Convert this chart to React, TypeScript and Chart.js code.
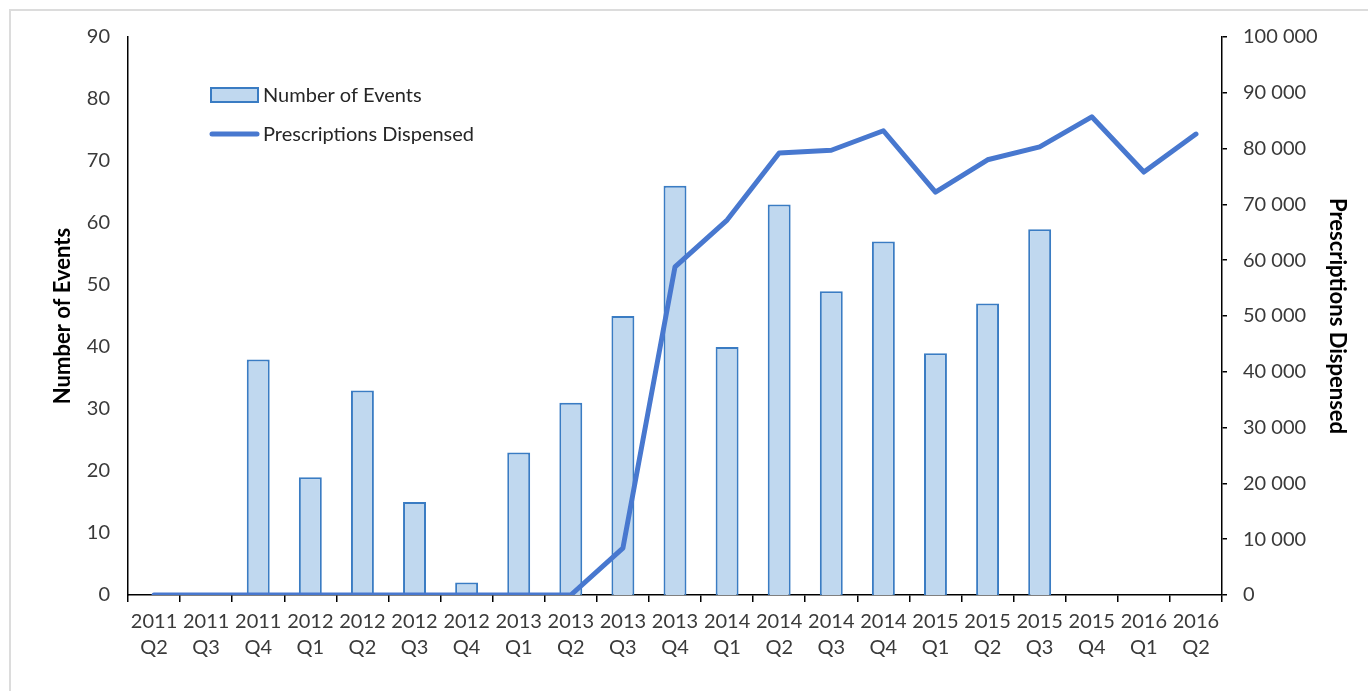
import React, { useEffect, useRef } from "react";
import { Chart, registerables } from "chart.js";

Chart.register(...registerables);

const categories: string[][] = [
  ["2011", "Q2"], ["2011", "Q3"], ["2011", "Q4"],
  ["2012", "Q1"], ["2012", "Q2"], ["2012", "Q3"], ["2012", "Q4"],
  ["2013", "Q1"], ["2013", "Q2"], ["2013", "Q3"], ["2013", "Q4"],
  ["2014", "Q1"], ["2014", "Q2"], ["2014", "Q3"], ["2014", "Q4"],
  ["2015", "Q1"], ["2015", "Q2"], ["2015", "Q3"], ["2015", "Q4"],
  ["2016", "Q1"], ["2016", "Q2"],
];

const numberOfEvents: (number | null)[] = [
  0, 0, 38, 19, 33, 15, 2, 23, 31, 45, 66, 40, 63, 49, 57, 39, 47, 59, null, null, null,
];

const prescriptionsDispensed: number[] = [
  0, 0, 0, 0, 0, 0, 0, 0, 0, 8400, 58800, 67200, 79200, 79700, 83200, 72200, 78000, 80300, 85700, 75800, 82600,
];

const leftTitle = "Number of Events";
const rightTitle = "Prescriptions Dispensed";

const FONT = "Lato";
const BAR_FILL = "#c0d8ef";
const BAR_BORDER = "#3a7cc3";
const LINE_COLOR = "#4878cf";
const TICK_COLOR = "#3a3a3a";

function formatThousands(v: number): string {
  return String(Math.round(v)).replace(/\B(?=(\d{3})+(?!\d))/g, " ");
}

const legendPlugin = {
  id: "insideLegend",
  afterDraw(chart: any) {
    const { ctx, chartArea } = chart;
    const x0 = chartArea.left + 83;
    const y1 = chartArea.top + 58;
    const y2 = chartArea.top + 97;
    ctx.save();
    ctx.fillStyle = BAR_FILL;
    ctx.strokeStyle = BAR_BORDER;
    ctx.lineWidth = 2;
    ctx.fillRect(x0, y1 - 7, 47, 14);
    ctx.strokeRect(x0, y1 - 7, 47, 14);
    ctx.beginPath();
    ctx.strokeStyle = LINE_COLOR;
    ctx.lineWidth = 5;
    ctx.lineCap = "round";
    ctx.moveTo(x0 + 1, y2);
    ctx.lineTo(x0 + 46, y2);
    ctx.stroke();
    ctx.fillStyle = "#262626";
    ctx.font = `20px ${FONT}`;
    ctx.textBaseline = "middle";
    ctx.textAlign = "left";
    ctx.fillText(chart.data.datasets[0].label, x0 + 52, y1 + 1);
    ctx.fillText(chart.data.datasets[1].label, x0 + 52, y2 + 1);
    ctx.restore();
  },
};

export default function App() {
  const canvasRef = useRef<HTMLCanvasElement | null>(null);

  useEffect(() => {
    const canvas = canvasRef.current;
    if (!canvas) return;
    const chart = new Chart(canvas, {
      type: "bar",
      data: {
        labels: categories,
        datasets: [
          {
            type: "bar",
            label: leftTitle,
            data: numberOfEvents,
            yAxisID: "y",
            backgroundColor: BAR_FILL,
            borderColor: BAR_BORDER,
            borderWidth: 2,
            borderSkipped: "start",
            barPercentage: 0.44,
            categoryPercentage: 1,
            order: 1,
          },
          {
            type: "line",
            label: rightTitle,
            data: prescriptionsDispensed,
            yAxisID: "y1",
            borderColor: LINE_COLOR,
            backgroundColor: LINE_COLOR,
            borderWidth: 5,
            pointRadius: 0,
            tension: 0,
            borderCapStyle: "round",
            borderJoinStyle: "round",
            order: 0,
          },
        ] as any,
      },
      options: {
        responsive: false,
        animation: false,
        layout: { padding: { top: 37, left: 0, right: 0, bottom: 0 } },
        plugins: {
          legend: { display: false },
          tooltip: { enabled: false },
        },
        scales: {
          x: {
            type: "category",
            offset: true,
            grid: {
              display: true,
              drawOnChartArea: false,
              drawTicks: true,
              tickLength: 7,
              color: "#000",
              lineWidth: 1.5,
              offset: true,
            },
            border: { display: true, color: "#000", width: 1.5 },
            ticks: {
              color: TICK_COLOR,
              font: { family: FONT, size: 20, lineHeight: 1.3 },
              padding: 7,
              maxRotation: 0,
              minRotation: 0,
              autoSkip: false,
            },
            afterFit: (s: any) => {
              s.height = 96;
            },
          },
          y: {
            position: "left",
            min: 0,
            max: 90,
            grid: { display: false, drawTicks: false, tickLength: 0 },
            border: { display: true, color: "#000", width: 1.5 },
            ticks: {
              stepSize: 10,
              padding: 18,
              color: TICK_COLOR,
              font: { family: FONT, size: 20 },
            },
            title: {
              display: true,
              text: leftTitle,
              color: "#000",
              font: { family: FONT, size: 22, weight: "bold" },
              padding: { top: 50, bottom: 0 },
            },
            afterFit: (s: any) => {
              s.width = 128;
            },
          },
          y1: {
            position: "right",
            min: 0,
            max: 100000,
            grid: {
              display: true,
              drawOnChartArea: false,
              drawTicks: true,
              tickLength: 5,
              color: "#000",
              lineWidth: 1.5,
            },
            border: { display: true, color: "#000", width: 1.5 },
            ticks: {
              stepSize: 10000,
              padding: 16,
              color: TICK_COLOR,
              font: { family: FONT, size: 20 },
              callback: (v: any) => formatThousands(Number(v)),
            },
            title: {
              display: true,
              text: rightTitle,
              color: "#000",
              font: { family: FONT, size: 22, weight: "bold" },
              padding: { top: 18, bottom: 0 },
            },
            afterFit: (s: any) => {
              s.width = 146;
            },
          },
        },
      } as any,
      plugins: [legendPlugin],
    });
    return () => chart.destroy();
  }, []);

  return (
    <div style={{ position: "fixed", left: 0, top: 0, width: 1368, height: 691, background: "#fff", overflow: "hidden" }}>
      <div
        style={{
          position: "absolute",
          left: 9,
          top: 9,
          right: -10,
          bottom: -10,
          borderLeft: "2px solid #dcdcdc",
          borderTop: "2px solid #dcdcdc",
        }}
      />
      <canvas
        ref={canvasRef}
        width={1368}
        height={691}
        style={{ position: "absolute", left: 0, top: 0, width: 1368, height: 691 }}
      />
    </div>
  );
}
